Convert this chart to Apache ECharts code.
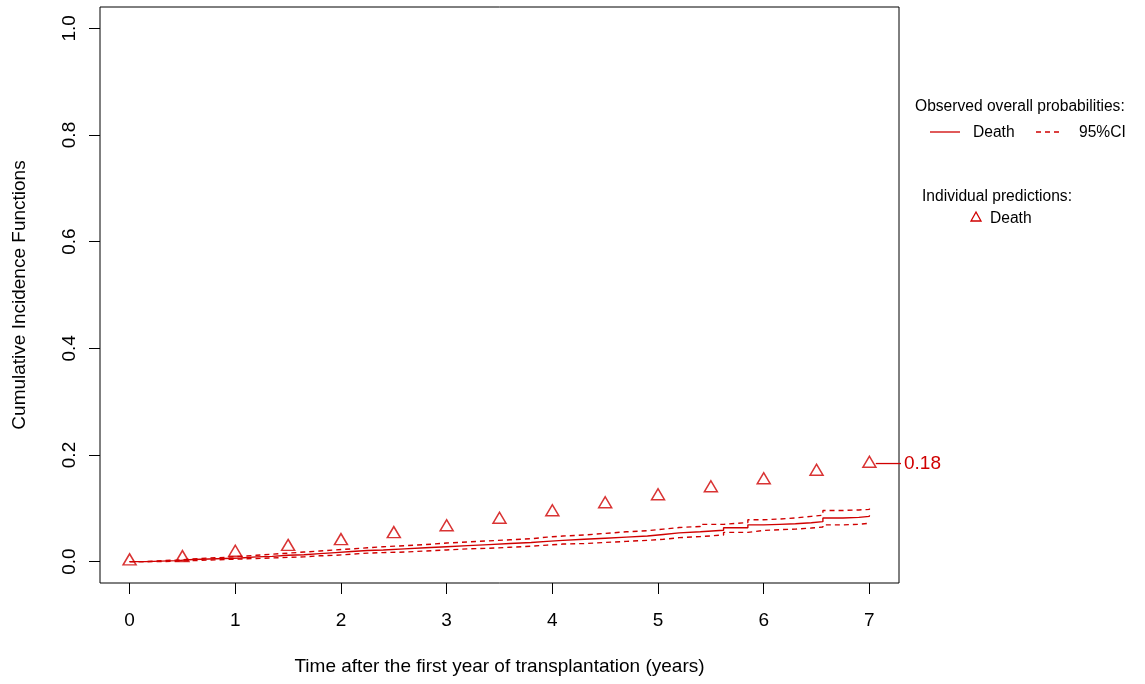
<!DOCTYPE html>
<html>
<head>
<meta charset="utf-8">
<script src="https://cdn.jsdelivr.net/npm/echarts@6/dist/echarts.min.js"></script>
<style>
html,body{margin:0;padding:0;background:#fff;}
#chart{width:1145px;height:684px;}
</style>
</head>
<body>
<div id="chart"></div>
<script>
// ---- data ----
const predTimes = [0, 0.5, 1, 1.5, 2, 2.5, 3, 3.5, 4, 4.5, 5, 5.5, 6, 6.5, 7];
const predDeath = [0.001, 0.007, 0.017, 0.028, 0.039, 0.052, 0.065, 0.079, 0.093, 0.108, 0.123, 0.138, 0.153, 0.169, 0.184];
const predLabel = '0.18';

const obsTimes = [0, 0.15, 0.3, 0.45, 0.6, 0.75, 0.9, 1.05, 1.2, 1.35, 1.5, 1.65, 1.8, 1.95, 2.1, 2.25, 2.4, 2.6, 2.8, 3.0, 3.2, 3.4, 3.6, 3.8, 3.95, 4.1, 4.3, 4.5, 4.7, 4.9, 5.05, 5.2, 5.4, 5.62, 5.85, 6.0, 6.15, 6.3, 6.45, 6.56, 6.75, 6.9, 7.0];
const obsDeath = [0, 0.001, 0.002, 0.004, 0.005, 0.006, 0.007, 0.009, 0.010, 0.012, 0.013, 0.015, 0.017, 0.019, 0.021, 0.022, 0.024, 0.026, 0.028, 0.030, 0.032, 0.034, 0.036, 0.038, 0.040, 0.042, 0.044, 0.046, 0.048, 0.051, 0.054, 0.056, 0.059, 0.0635, 0.069, 0.070, 0.071, 0.073, 0.075, 0.082, 0.083, 0.085, 0.087];
const obsUpper = [0, 0.002, 0.003, 0.005, 0.007, 0.008, 0.010, 0.012, 0.014, 0.016, 0.018, 0.020, 0.022, 0.024, 0.026, 0.028, 0.030, 0.032, 0.035, 0.037, 0.039, 0.041, 0.043, 0.046, 0.048, 0.050, 0.053, 0.056, 0.058, 0.061, 0.064, 0.066, 0.070, 0.0735, 0.0785, 0.080, 0.082, 0.085, 0.087, 0.096, 0.097, 0.098, 0.0996];
const obsLower = [0, 0.000, 0.001, 0.002, 0.003, 0.004, 0.005, 0.006, 0.007, 0.008, 0.009, 0.011, 0.012, 0.014, 0.016, 0.017, 0.018, 0.020, 0.022, 0.024, 0.025, 0.027, 0.029, 0.031, 0.033, 0.034, 0.036, 0.038, 0.040, 0.042, 0.045, 0.047, 0.050, 0.055, 0.0585, 0.060, 0.061, 0.063, 0.065, 0.069, 0.070, 0.072, 0.0735];

const xTicks = [0, 1, 2, 3, 4, 5, 6, 7];
const yTicks = [0, 0.2, 0.4, 0.6, 0.8, 1.0];

const RED = '#D00000';
const FONT = 'Liberation Sans, Arial, Helvetica, sans-serif';

const zip = (a, b) => a.map((v, i) => [v, b[i]]);
const lastT = predTimes[predTimes.length - 1];
const lastV = predDeath[predDeath.length - 1];

const chart = echarts.init(document.getElementById('chart'), null, {renderer: 'canvas'});
chart.setOption({
  animation: false,
  backgroundColor: '#fff',
  textStyle: {fontFamily: FONT},
  grid: {left: 100, right: 246, top: 7, bottom: 101, show: true, borderColor: '#000', borderWidth: 1, backgroundColor: 'transparent'},
  xAxis: {
    type: 'value', min: -0.28, max: 7.28,
    splitLine: {show: false},
    axisLine: {show: false, onZero: false},
    axisTick: {show: true, inside: false, length: 11, customValues: xTicks, lineStyle: {color: '#000'}},
    axisLabel: {customValues: xTicks, margin: 28, fontSize: 19, color: '#000', fontFamily: FONT, formatter: v => String(v)},
    name: 'Time after the first year of transplantation (years)',
    nameLocation: 'middle', nameGap: 74,
    nameTextStyle: {fontSize: 19, color: '#000', fontFamily: FONT}
  },
  yAxis: {
    type: 'value', min: -0.04, max: 1.04,
    splitLine: {show: false},
    axisLine: {show: false, onZero: false},
    axisTick: {show: true, inside: false, length: 11, customValues: yTicks, lineStyle: {color: '#000'}},
    axisLabel: {customValues: yTicks, rotate: 90, margin: 21, fontSize: 19, color: '#000', fontFamily: FONT, formatter: v => v.toFixed(1)},
    name: 'Cumulative Incidence Functions',
    nameLocation: 'middle', nameGap: 71, nameRotate: 90,
    nameTextStyle: {fontSize: 19, color: '#000', fontFamily: FONT}
  },
  series: [
    {type: 'line', step: 'end', data: zip(obsTimes, obsDeath), showSymbol: false, lineStyle: {color: RED, width: 1.4, type: 'solid'}},
    {type: 'line', step: 'end', data: zip(obsTimes, obsUpper), showSymbol: false, lineStyle: {color: RED, width: 1.4, type: [5, 4]}},
    {type: 'line', step: 'end', data: zip(obsTimes, obsLower), showSymbol: false, lineStyle: {color: RED, width: 1.4, type: [5, 4]}},
    {type: 'scatter', data: zip(predTimes, predDeath), symbol: 'triangle', symbolSize: [13, 11], symbolOffset: [0, -1.8],
     itemStyle: {color: 'transparent', borderColor: RED, borderWidth: 1.5}},
    {type: 'line', data: [[lastT + 0.06, lastV], [lastT + 0.3, lastV]], showSymbol: false, clip: false,
     lineStyle: {color: RED, width: 1.3},
     endLabel: {show: true, formatter: predLabel, color: RED, fontSize: 19, fontFamily: FONT, distance: 3}}
  ],
  graphic: [
    {type: 'text', left: 915, top: 99, style: {text: 'Observed overall probabilities:', font: '15.6px ' + FONT, fill: '#000'}},
    {type: 'line', shape: {x1: 930, y1: 132, x2: 960, y2: 132}, style: {stroke: RED, lineWidth: 1.3}},
    {type: 'text', left: 973, top: 125, style: {text: 'Death', font: '15.6px ' + FONT, fill: '#000'}},
    {type: 'line', shape: {x1: 1036, y1: 132, x2: 1062, y2: 132}, style: {stroke: RED, lineWidth: 1.3, lineDash: [5, 4]}},
    {type: 'text', left: 1079, top: 125, style: {text: '95%CI', font: '15.6px ' + FONT, fill: '#000'}},
    {type: 'text', left: 922, top: 189, style: {text: 'Individual predictions:', font: '15.6px ' + FONT, fill: '#000'}},
    {type: 'polygon', shape: {points: [[976, 212], [981, 221], [971, 221]]}, style: {fill: 'none', stroke: RED, lineWidth: 1.3}},
    {type: 'text', left: 990, top: 211, style: {text: 'Death', font: '15.6px ' + FONT, fill: '#000'}}
  ]
});
</script>
</body>
</html>
